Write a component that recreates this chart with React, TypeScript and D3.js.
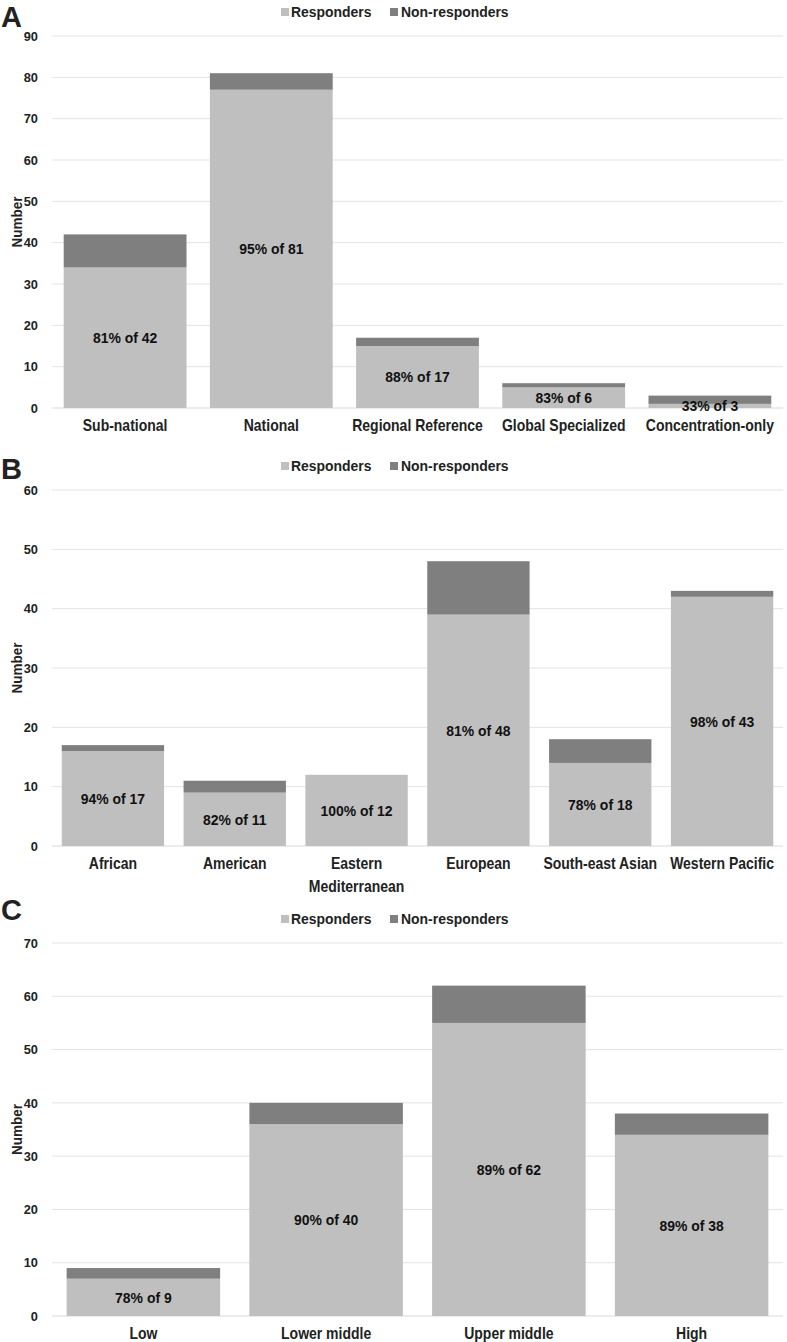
import React from "react";
import * as d3 from "d3";

const catsA = ["Sub-national", "National", "Regional Reference", "Global Specialized", "Concentration-only"];
const respA = [34, 77, 15, 5, 1];
const nonA = [8, 4, 2, 1, 2];
const ticksA = [0, 10, 20, 30, 40, 50, 60, 70, 80, 90];

const catsB = ["African", "American", "Eastern\nMediterranean", "European", "South-east Asian", "Western Pacific"];
const respB = [16, 9, 12, 39, 14, 42];
const nonB = [1, 2, 0, 9, 4, 1];
const ticksB = [0, 10, 20, 30, 40, 50, 60];

const catsC = ["Low", "Lower middle", "Upper middle", "High"];
const respC = [7, 36, 55, 34];
const nonC = [2, 4, 7, 4];
const ticksC = [0, 10, 20, 30, 40, 50, 60, 70];

const seriesNames = ["Responders", "Non-responders"];
const COL_R = "#bfbfbf";
const COL_N = "#7f7f7f";
const FONT = "'Liberation Sans', Arial, sans-serif";

function CText({ x, y, size, sx, anchor, fill, children }: any) {
  return (
    <g transform={`translate(${x},${y}) scale(${sx},1)`}>
      <text x={0} y={0} dy="0.35em" textAnchor={anchor} fontSize={size} fill={fill}>{children}</text>
    </g>
  );
}

type PanelProps = {
  letter: string;
  cats: string[];
  resp: number[];
  non: number[];
  ticks: number[];
  yTop: number;
  yBottom: number;
  letterY: number;
  legendY: number;
};

function Panel({ letter, cats, resp, non, ticks, yTop, yBottom, letterY, legendY }: PanelProps) {
  const x0 = 52, x1 = 783;
  const x = d3.scaleBand<string>().domain(cats).range([x0, x1]).paddingInner(0.16).paddingOuter(0.08);
  const y = d3.scaleLinear().domain([0, ticks[ticks.length - 1]]).range([yBottom, yTop]);
  return (
    <g fontFamily={FONT} fontWeight="bold">
      <text x={1} y={letterY} fontSize={29} fill="#222">{letter}</text>
      <g>
        <rect x={281} y={legendY - 4} width={8} height={8} fill={COL_R} />
        <CText x={291} y={legendY} size={15} sx={0.93} anchor="start" fill="#222">{seriesNames[0]}</CText>
        <rect x={390} y={legendY - 4} width={8} height={8} fill={COL_N} />
        <CText x={401} y={legendY} size={15} sx={0.93} anchor="start" fill="#222">{seriesNames[1]}</CText>
      </g>
      {ticks.map((t) => (
        <g key={t}>
          <line x1={x0} x2={x1} y1={y(t)} y2={y(t)} stroke={t === 0 ? "#d9d9d9" : "#e3e3e3"} strokeWidth={1} />
          <CText x={38} y={y(t)} size={13.5} sx={0.95} anchor="end" fill="#222">{t}</CText>
        </g>
      ))}
      <g transform={`translate(17,${(yTop + yBottom) / 2}) rotate(-90) scale(0.93,1)`}>
        <text x={0} y={0} dy="0.35em" textAnchor="middle" fontSize={14.5} fill="#222">Number</text>
      </g>
      {cats.map((c, i) => {
        const bx = x(c)!;
        const bw = x.bandwidth();
        const r = resp[i];
        const n = non[i];
        const tot = r + n;
        const pct = Math.round((r / tot) * 100);
        const lines = c.split("\n");
        return (
          <g key={c}>
            <rect x={bx} y={y(r)} width={bw} height={y(0) - y(r)} fill={COL_R} />
            {n > 0 && <rect x={bx} y={y(tot)} width={bw} height={y(r) - y(tot)} fill={COL_N} />}
            <CText x={bx + bw / 2} y={y(r / 2)} size={15} sx={0.93} anchor="middle" fill="#111">{`${pct}% of ${tot}`}</CText>
            {lines.map((ln, k) => (
              <CText key={k} x={bx + bw / 2} y={yBottom + 17 + k * 23} size={16} sx={0.875} anchor="middle" fill="#222">{ln}</CText>
            ))}
          </g>
        );
      })}
    </g>
  );
}

export default function App() {
  return (
    <div style={{ position: "absolute", left: 0, top: 0 }}>
      <svg width={787} height={1342} viewBox="0 0 787 1342" style={{ display: "block", background: "#fff" }}>
        <Panel letter="A" cats={catsA} resp={respA} non={nonA} ticks={ticksA} yTop={36} yBottom={408} letterY={27} legendY={12} />
        <Panel letter="B" cats={catsB} resp={respB} non={nonB} ticks={ticksB} yTop={490} yBottom={846} letterY={479} legendY={466} />
        <Panel letter="C" cats={catsC} resp={respC} non={nonC} ticks={ticksC} yTop={943} yBottom={1316} letterY={920} legendY={919} />
      </svg>
    </div>
  );
}
